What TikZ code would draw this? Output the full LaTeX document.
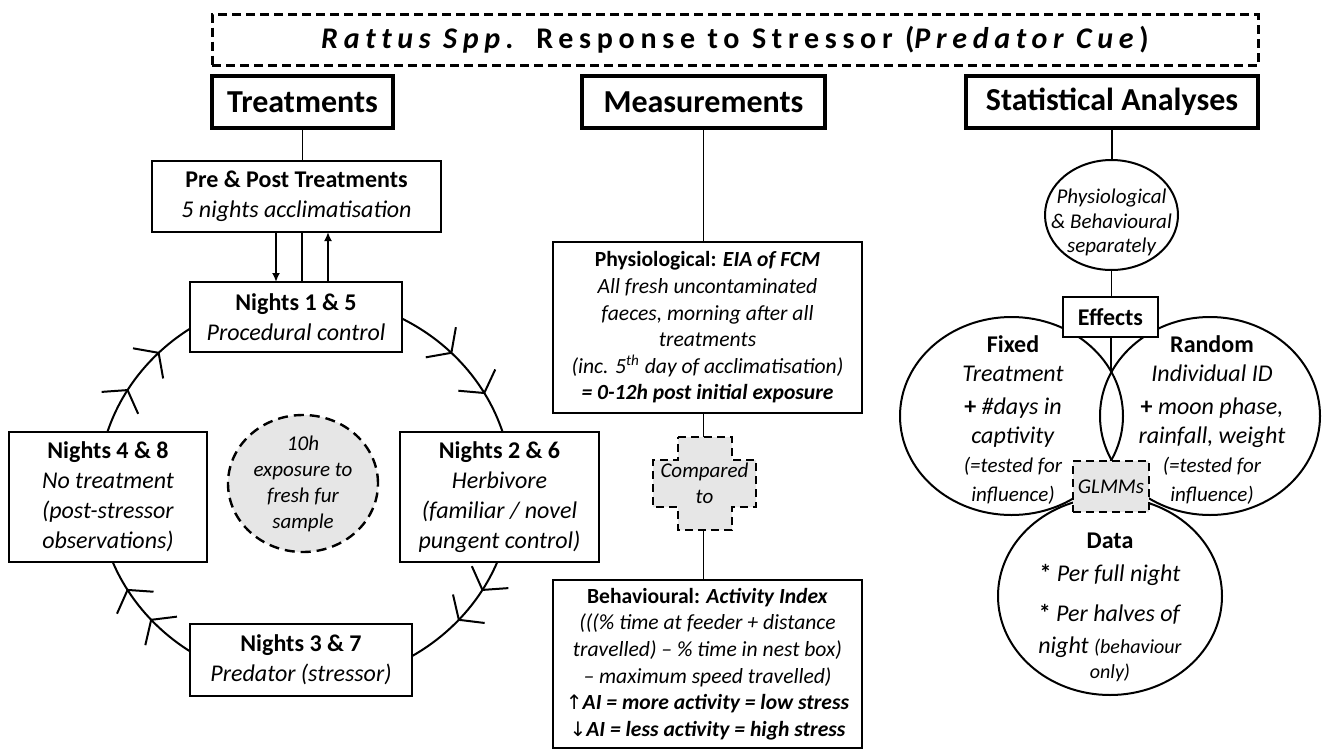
\documentclass[tikz,border=0pt]{standalone}
\usepackage{fontspec}
\setmainfont{Carlito}
\newfontfamily\titlefont[LetterSpace=19, Ligatures=NoCommon]{Carlito}
\newfontfamily\arrowfont{DejaVu Sans}
\usetikzlibrary{arrows.meta,calc,shapes.geometric}
\definecolor{fillgrey}{HTML}{E6E6E6}
\begin{document}
\begin{tikzpicture}[x=0.5pt,y=-0.5pt,
  every node/.style={inner sep=0pt, outer sep=0pt},
  header/.style={draw, line width=1.6pt, fill=white, font=\fontsize{16}{18}\selectfont\bfseries},
  nbox/.style={draw, line width=1pt, fill=white, align=center, font=\fontsize{12}{15}\selectfont},
  mbox/.style={draw, line width=1pt, fill=white, align=center, font=\fontsize{10.8}{13.3}\selectfont},
  conn/.style={line width=0.8pt},
  arrconn/.style={line width=1pt, -{Latex[length=4.5pt,width=4pt]}},
  ring/.style={line width=1pt},
  oval/.style={ellipse, draw, line width=1pt},
  dashbox/.style={draw, dash pattern=on 4pt off 2.5pt, line width=1.2pt, fill=fillgrey},
  txt/.style={align=center},
]
\useasboundingbox (0,0) rectangle (1323,750);

% title
\node[draw, dash pattern=on 4.5pt off 2.5pt, line width=1.5pt, minimum width=523pt, minimum height=25.5pt,
  font=\titlefont\fontsize{15}{17}\selectfont\bfseries] (title) at (735,40)
  {\textit{Rattus Spp.} Response to Stressor (\textit{Predator Cue})};

% headers
\node[header, minimum width=90.5pt, minimum height=26pt] (treat) at (302.5,102) {Treatments};
\node[header, minimum width=121.5pt, minimum height=26pt] (meas) at (703.5,102) {Measurements};
\node[header, minimum width=146pt, minimum height=26pt] (stat) at (1112,102) {Statistical Analyses};

% ---------------- Treatments ----------------
\coordinate (ring) at (305,490);
\draw[ring] (ring) ellipse [x radius=103.5pt, y radius=97pt];
\foreach \a in {30,45,135,149,211,222,318,329}
  \draw[ring] ($(ring)+(\a:103.5pt and 97pt)+(\a+35:13pt)$) -- ($(ring)+(\a:103.5pt and 97pt)$) -- ($(ring)+(\a:103.5pt and 97pt)+(\a+145:13pt)$);

\node[nbox, minimum width=144.5pt, minimum height=35.5pt] (pre) at (296.5,196.5)
  {\textbf{Pre \& Post Treatments}\\\textit{5 nights acclimatisation}};
\node[nbox, minimum width=106pt, minimum height=35pt] (n15) at (296,317)
  {\textbf{Nights 1 \& 5}\\\textit{Procedural control}};
\node[nbox, minimum width=99pt, minimum height=65pt] (n48) at (108,497)
  {\textbf{Nights 4 \& 8}\\\textit{No treatment}\\\textit{(post-stressor}\\\textit{observations)}};
\node[nbox, minimum width=99.5pt, minimum height=65pt] (n26) at (499.5,497)
  {\textbf{Nights 2 \& 6}\\\textit{Herbivore}\\\textit{(familiar / novel}\\\textit{pungent control)}};
\node[nbox, minimum width=111pt, minimum height=36pt] (n37) at (301,660)
  {\textbf{Nights 3 \& 7}\\\textit{Predator (stressor)}};

\node[ellipse, draw, dash pattern=on 5pt off 3pt, line width=1.2pt, fill=fillgrey,
  minimum width=75pt, minimum height=68.5pt] (fur) at (303,483.5) {};
\node[txt, font=\fontsize{10.5}{13}\selectfont\itshape] (furtxt) at (fur.center) {10h\\exposure to\\fresh fur\\sample};

\draw[conn] (treat.south) -- (treat.south |- pre.north);
\coordinate (xa) at (276,0);
\coordinate (xb) at (302,0);
\coordinate (xc) at (328,0);
\draw[arrconn] (pre.south -| xa) -- (n15.north -| xa);
\draw[line width=1pt] (pre.south -| xb) -- (n15.north -| xb);
\draw[arrconn] (n15.north -| xc) -- (pre.south -| xc);

% ---------------- Measurements ----------------
\node[mbox, minimum width=154.5pt, minimum height=85.5pt] (phys) at (707.5,327.5)
  {\textbf{Physiological:} \textbf{\textit{EIA of FCM}}\\
   \textit{All fresh uncontaminated}\\
   \textit{faeces, morning after all}\\
   \textit{treatments}\\
   \textit{(inc. 5\textsuperscript{th} day of acclimatisation)}\\
   \textbf{\textit{= 0-12h post initial exposure}}};

\node[minimum width=51.5pt, minimum height=46.5pt] (cmp) at (704.5,483.5) {};
\draw[dashbox] (678,437) -- (732,437) -- (732,460) -- (756,460) -- (756,507) -- (732,507)
  -- (732,530) -- (678,530) -- (678,507) -- (653,507) -- (653,460) -- (678,460) -- cycle;
\node[txt, font=\fontsize{10.5}{13}\selectfont\itshape] (cmptxt) at (cmp.center) {Compared\\to};

\node[mbox, minimum width=154.5pt, minimum height=84pt] (beh) at (707.5,664)
  {\textbf{Behavioural:} \textbf{\textit{Activity Index}}\\
   \textit{(((\% time at feeder + distance}\\
   \textit{travelled) – \% time in nest box)}\\
   \textit{– maximum speed travelled)}\\
   {\arrowfont\fontsize{10}{12}\selectfont ↑}\textbf{\textit{AI = more activity = low stress}}\\
   {\arrowfont\fontsize{10}{12}\selectfont ↓}\textbf{\textit{AI = less activity = high stress}}};

\draw[conn] (meas.south) -- (meas.south |- phys.north);
\draw[conn] (phys.south -| meas.south) -- (cmp.north -| meas.south);
\draw[conn] (cmp.south -| meas.south) -- (beh.north -| meas.south);

% ---------------- Statistical analyses ----------------
\node[oval, minimum width=111.5pt, minimum height=99pt] (fixed) at (1011.5,416) {};
\node[oval, minimum width=110pt, minimum height=99pt] (random) at (1210,416) {};
\node[oval, minimum width=112pt, minimum height=99pt] (data) at (1110,596) {};
\coordinate (lens) at (1111,371);

\node[oval, fill=white, minimum width=66.5pt, minimum height=55pt] (sep) at (1111.5,215) {};
\node[txt, font=\fontsize{10.5}{12.25}\selectfont\itshape] (septxt) at (1111.5,222.5)
  {Physiological\\\& Behavioural\\separately};

\node[draw, line width=1.2pt, fill=white, minimum width=47.5pt, minimum height=20pt,
  font=\fontsize{12}{14}\selectfont\bfseries] (eff) at (1110.5,317) {Effects};

\draw[conn] (stat.south) -- (stat.south |- sep.north);
\draw[conn] (sep.south) -- (sep.south |- eff.north);
\draw[conn] (eff.south -| lens) -- (lens);

\node[dashbox, minimum width=38pt, minimum height=25.5pt, font=\fontsize{10.5}{12}\selectfont\itshape]
  (glmm) at (1111,486.5) {GLMMs};

\node[txt, font=\fontsize{12}{14.5}\selectfont] (fixedtxt) at (1013,420)
  {\textbf{Fixed}\\\textit{Treatment}\\[2pt]
   \textbf{+} \textit{\#days in}\\\textit{captivity}\\
   {\fontsize{10.5}{13}\selectfont\textit{(=tested for}}\\
   {\fontsize{10.5}{13}\selectfont\textit{influence)}}};
\node[txt, font=\fontsize{12}{14.5}\selectfont] (randomtxt) at (1212,420)
  {\textbf{Random}\\\textit{Individual ID}\\[2pt]
   \textbf{+} \textit{moon phase,}\\\textit{rainfall, weight}\\
   {\fontsize{10.5}{13}\selectfont\textit{(=tested for}}\\
   {\fontsize{10.5}{13}\selectfont\textit{influence)}}};
\node[txt, font=\fontsize{12}{14}\selectfont] (datatxt) at (1110,607)
  {\textbf{Data}\\[2.5pt]
   \textbf{*} \textit{Per full night}\\[6pt]
   \textbf{*} \textit{Per halves of}\\[2pt]
   \textit{night} {\fontsize{10}{12}\selectfont\textit{(behaviour}}\\[-1.5pt]
   {\fontsize{10}{12}\selectfont\textit{only)}}};
\end{tikzpicture}
\end{document}
